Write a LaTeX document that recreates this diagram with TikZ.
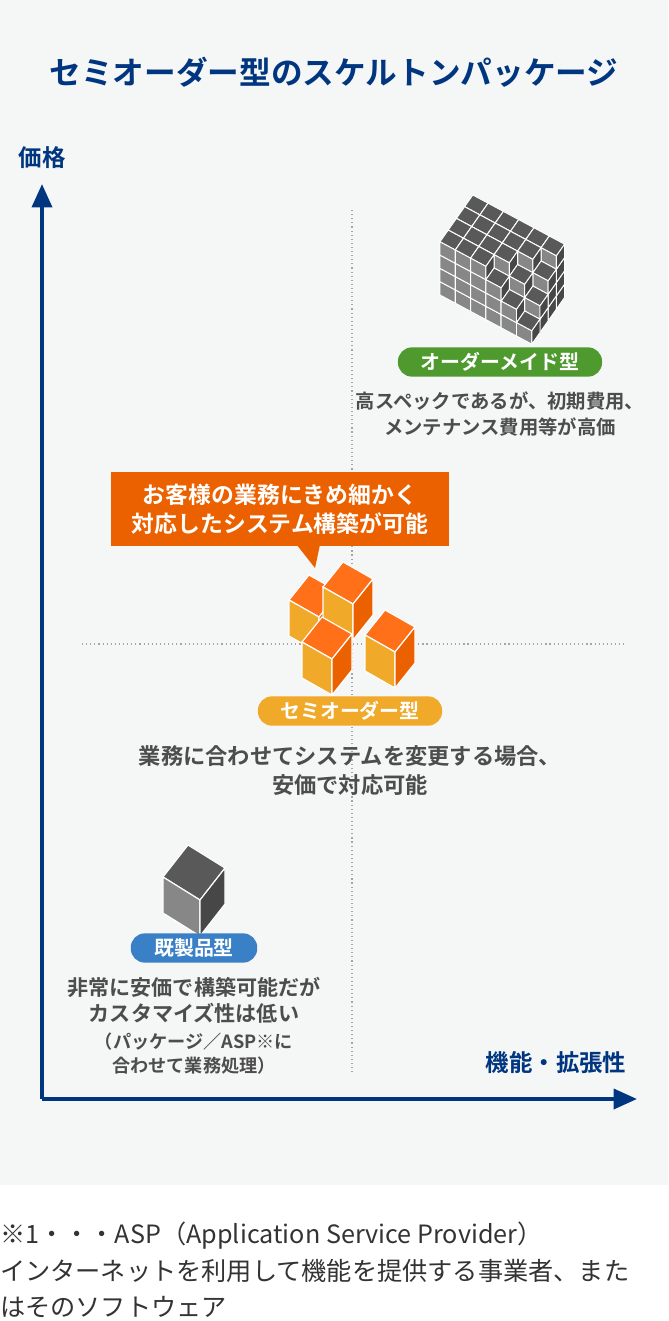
\documentclass[tikz,border=0pt]{standalone}
\usepackage{fontspec}
\setmainfont{Noto Sans CJK JP}[BoldFont={Noto Sans CJK JP Bold}]
\usetikzlibrary{arrows.meta}
\definecolor{navy}{HTML}{00367F}
\definecolor{txtgray}{HTML}{4D4D4D}
\definecolor{panel}{HTML}{F5F6F6}
\definecolor{ordgreen}{HTML}{4E9A2E}
\definecolor{semiyel}{HTML}{F0A929}
\definecolor{pkgblue}{HTML}{3A80C6}
\definecolor{callout}{HTML}{EB6100}
\tikzset{
  axis/.style={navy, line width=3.4pt, -{Triangle[width=17pt,length=20pt]}},
  guide/.style={gray!70, line width=1pt, dash pattern=on 1pt off 2.5pt},
  badge/.style={rounded corners=12pt, minimum height=25pt, text=white, font=\bfseries\fontsize{17}{20}\selectfont},
  desc/.style={txtgray, align=center, font=\bfseries\fontsize{16.5}{22}\selectfont},
  ocube/.style={x={(0.9cm,-0.51cm)}, y={(0.6cm,0.75cm)}, z={(0cm,1.08cm)}},
}
% one cube: i j k, top, front, side
\newcommand\isocube[6]{%
  \filldraw[fill=#4] (#1,#2,#3+1) -- (#1+1,#2,#3+1) -- (#1+1,#2+1,#3+1) -- (#1,#2+1,#3+1) -- cycle;
  \filldraw[fill=#5] (#1,#2,#3) -- (#1+1,#2,#3) -- (#1+1,#2,#3+1) -- (#1,#2,#3+1) -- cycle;
  \filldraw[fill=#6] (#1+1,#2,#3) -- (#1+1,#2+1,#3) -- (#1+1,#2+1,#3+1) -- (#1+1,#2,#3+1) -- cycle;
}
\newcommand\orangecube{\isocube{0}{0}{0}{orange!75!red!90}{semiyel}{callout}}
\begin{document}
\begin{tikzpicture}[x=0.03cm, y=-0.03cm]
  \useasboundingbox (0,0) rectangle (668,1321);
  \fill[panel] (0,0) rectangle (668,1185);

  \node[navy, font=\bfseries\fontsize{27}{30}\selectfont] (title) at (334,72) {セミオーダー型のスケルトンパッケージ};

  % axes
  \coordinate (origin) at (42,1099);
  \coordinate (ytop) at (42,184);
  \coordinate (xend) at (637,1099);
  \draw[guide] (352,210) -- (352,1075);
  \draw[guide] (82,644) -- (625,644);
  \draw[axis] (origin) -- (ytop);
  \draw[axis] (origin) -- (xend);
  \node[navy, font=\bfseries\fontsize{20}{24}\selectfont] (price) at (42,158) {価格};
  \node[navy, font=\bfseries\fontsize{20}{24}\selectfont] (func) at (556,1063) {機能・拡張性};

  % order-made block
  \begin{scope}[shift={(440,295)}, x={(0.459cm,-0.246cm)}, y={(0.246cm,0.351cm)}, z={(0cm,0.399cm)}, draw=white, line width=0.8pt]
    \foreach \j in {3,2,1,0} {
      \foreach \i in {0,...,5} {
        \pgfmathtruncatemacro\h{4-max(0,\i-3+1-\j)}
        \pgfmathtruncatemacro\top{\h-1}
        \foreach \k in {0,...,\top} {
          \isocube{\i}{\j}{\k}{black!65}{black!47}{black!72}
        }
      }
    }
  \end{scope}
  \node[badge, fill=ordgreen, minimum width=205pt*0.85] (order) at (500,362) {オーダーメイド型};
  \node[desc, anchor=north] (orderdesc) at (500,388) {高スペックであるが、初期費用、\\メンテナンス費用等が高価};

  % callout
  \node[fill=callout, text=white, align=center, minimum width=289pt, minimum height=63pt, font=\bfseries\fontsize{19.5}{25}\selectfont] (need) at (280,509) {お客様の業務にきめ細かく\\対応したシステム構築が可能};
  \fill[callout] (293,540) -- (321,540) -- (315,568) -- cycle;

  % semi-order cubes
  \begin{scope}[draw=white, line width=1pt]
    \begin{scope}[shift={(289,636)}, ocube] \orangecube \end{scope}
    \begin{scope}[shift={(323,623)}, ocube] \orangecube \end{scope}
    \begin{scope}[shift={(302,678)}, ocube] \orangecube \end{scope}
    \begin{scope}[shift={(365,671)}, ocube] \orangecube \end{scope}
  \end{scope}
  \node[badge, fill=semiyel, minimum width=185pt*0.85] (semi) at (350,711) {セミオーダー型};
  \node[desc, anchor=north, font=\bfseries\fontsize{19}{25.5}\selectfont] (semidesc) at (350,741) {業務に合わせてシステムを変更する場合、\\安価で対応可能};

  % package cube
  \begin{scope}[shift={(163,913)}, x={(1.11cm,-0.69cm)}, y={(0.75cm,0.96cm)}, z={(0cm,1.08cm)}, draw=white, line width=1pt]
    \isocube{0}{0}{0}{black!65}{black!47}{black!72}
  \end{scope}
  \node[badge, fill=pkgblue, minimum width=127pt*0.85] (pkg) at (194,948) {既製品型};
  \node[desc, anchor=north, font=\bfseries\fontsize{18}{22}\selectfont] (pkgdesc) at (194,973) {非常に安価で構築可能だが\\カスタマイズ性は低い};
  \node[desc, anchor=north, font=\bfseries\fontsize{15.5}{20.5}\selectfont] (pkgnote) at (194,1029) {（パッケージ／ASP※に\\合わせて業務処理）};

  % footnote
  \node[anchor=north west, align=left, text=black!80, inner sep=0pt, font=\fontsize{21.5}{31}\selectfont] (foot) at (0,1222) {※1・・・ASP（Application Service Provider）\\インターネットを利用して機能を提供する事業者、また\\はそのソフトウェア};
\end{tikzpicture}
\end{document}
